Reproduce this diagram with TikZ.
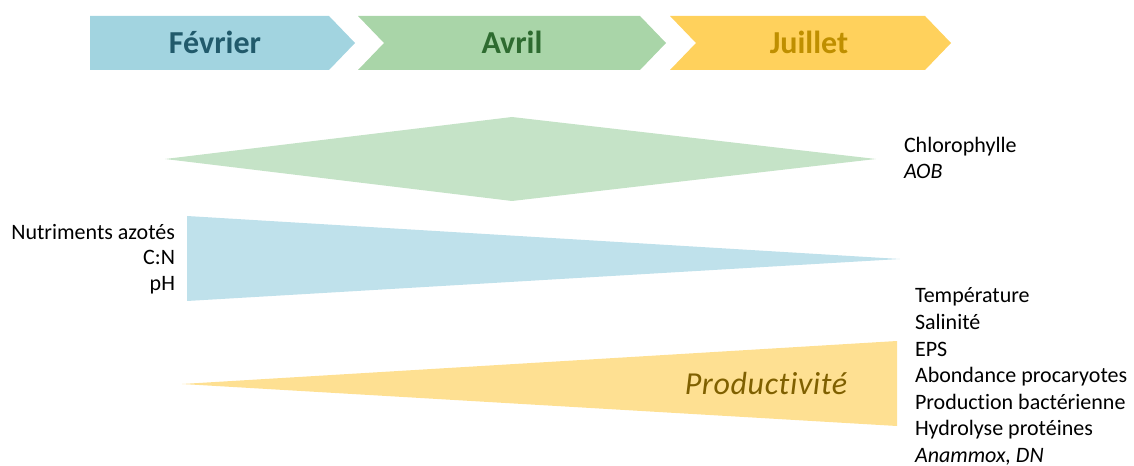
\documentclass[tikz,border=0pt]{standalone}
\usepackage{fontspec}
\setmainfont[Ligatures=NoCommon]{Carlito}
\definecolor{febfill}{HTML}{A2D4E0}
\definecolor{febtext}{HTML}{215A6B}
\definecolor{avrfill}{HTML}{A9D5A8}
\definecolor{avrtext}{HTML}{2E6B30}
\definecolor{juifill}{HTML}{FFD15C}
\definecolor{juitext}{HTML}{BF8F00}
\definecolor{diamfill}{HTML}{C5E3C7}
\definecolor{bluetri}{HTML}{BFE1EB}
\definecolor{yeltri}{HTML}{FEE092}
\definecolor{prodtext}{HTML}{7F6000}
\tikzset{
  lbl/.style={inner sep=0pt, outer sep=0pt, font=\fontsize{16.5}{20}\selectfont},
  month/.style={inner sep=0pt, anchor=base, font=\fontsize{24}{28}\selectfont\bfseries},
}
\begin{document}
\begin{tikzpicture}[x=0.75pt,y=-0.75pt]
\useasboundingbox (0,0) rectangle (1134,466);
% chevrons
\fill[febfill] (90,16) -- (329,16) -- (355,43) -- (329,70) -- (90,70) -- cycle;
\fill[avrfill] (358,16) -- (640,16) -- (666,43) -- (640,70) -- (358,70) -- (384,43) -- cycle;
\fill[juifill] (670,16) -- (925,16) -- (951,43) -- (925,70) -- (670,70) -- (696,43) -- cycle;
\node[month, text=febtext] (feb) at (215,54) {Février};
\node[month, text=avrtext] (avr) at (512,54) {Avril};
\node[month, text=juitext] (jui) at (809,54) {Juillet};
% diamond
\fill[diamfill] (165,159) -- (512,117) -- (876,159) -- (512,201) -- cycle;
% blue triangle
\fill[bluetri] (187,216) -- (900,259) -- (187,301) -- cycle;
% yellow triangle
\fill[yeltri] (182,384) -- (897,341) -- (897,426) -- cycle;
\node[inner sep=0pt, anchor=base, text=prodtext, font=\fontsize{24}{28}\selectfont\itshape\addfontfeatures{LetterSpace=2}] (prod) at (766,394) {Productivité};
% right top labels
\node[lbl, anchor=base west] (chl) at (904,153) {Chlorophylle};
\node[lbl, anchor=base west] (aob) at (904,179) {\itshape AOB};
% left labels
\node[lbl, anchor=base east] (nut) at (175,240) {Nutriments azotés};
\node[lbl, anchor=base east] (cn) at (175,265) {C:N};
\node[lbl, anchor=base east] (ph) at (175,291) {pH};
% right bottom labels
\node[lbl, anchor=base west] (r1) at (915,303) {Température};
\node[lbl, anchor=base west] (r2) at (915,329.5) {Salinité};
\node[lbl, anchor=base west] (r3) at (915,356) {EPS};
\node[lbl, anchor=base west] (r4) at (915,382.5) {Abondance procaryotes};
\node[lbl, anchor=base west] (r5) at (915,409) {Production bactérienne};
\node[lbl, anchor=base west] (r6) at (915,435.5) {Hydrolyse protéines};
\node[lbl, anchor=base west] (r7) at (915,462) {\itshape Anammox, DN};
\end{tikzpicture}
\end{document}
